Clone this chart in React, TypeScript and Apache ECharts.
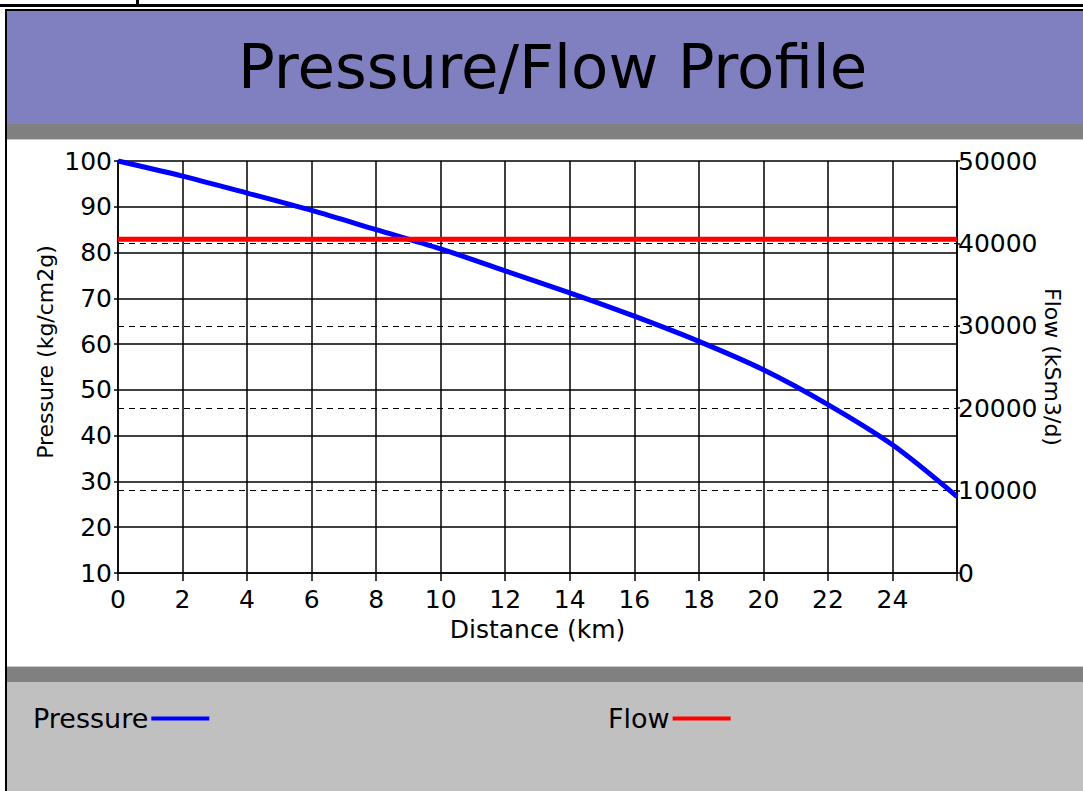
import React, { useEffect, useRef } from "react";
import * as echarts from "echarts";

const distanceKm = [0, 2, 4, 6, 8, 10, 12, 14, 16, 18, 20, 22, 24, 26];
const pressure = [100, 96.7, 93.0, 89.2, 85.0, 80.8, 76.0, 71.2, 66.1, 60.6, 54.4, 46.8, 38.0, 26.7];
const flowDistance = [0, 26];
const flowValue = [40500, 40500];
const seriesNames = ["Pressure", "Flow"];
const titleText = "Pressure/Flow Profile";

const FONT = "DejaVu Sans";

export default function App() {
  const ref = useRef<HTMLDivElement>(null);
  useEffect(() => {
    const chart = echarts.init(ref.current!, null, { renderer: "svg" });
    const pressureData = distanceKm.map((d, i) => [d, pressure[i]]);
    const flowData = flowDistance.map((d, i) => [d, flowValue[i]]);
    const rect = (x: number, y: number, w: number, h: number, fill: string) => ({
      type: "rect",
      silent: true,
      shape: { x, y, width: w, height: h },
      style: { fill },
    });
    const legendBase = {
      align: "right",
      icon: "rect",
      itemWidth: 58,
      itemHeight: 4,
      itemGap: 0,
      padding: 0,
      top: 705,
      textStyle: { fontFamily: FONT, fontSize: 27, color: "#000", padding: [0, -2, 0, 0] },
    };
    chart.setOption({
      animation: false,
      backgroundColor: "#ffffff",
      textStyle: { fontFamily: FONT },
      graphic: [
        rect(0, 4, 1083, 3, "#000000"),
        rect(136, 0, 3, 5, "#000000"),
        rect(5, 9, 1078, 2, "#000000"),
        rect(5, 9, 2, 782, "#000000"),
        rect(7, 11, 1076, 113, "#8080C0"),
        rect(7, 124, 1076, 15, "#808080"),
        rect(7, 139, 1076, 1, "#C8C8C8"),
        rect(7, 666, 1076, 1, "#C8C8C8"),
        rect(7, 667, 1076, 15, "#808080"),
        rect(7, 682, 1076, 109, "#C0C0C0"),
      ],
      title: {
        text: titleText,
        left: 233,
        top: 31,
        textStyle: { fontFamily: FONT, fontSize: 61, fontWeight: "normal", color: "#000" },
      },
      legend: [
        { ...legendBase, data: [seriesNames[0]], left: 33 },
        { ...legendBase, data: [seriesNames[1]], left: 608 },
      ],
      grid: { left: 118, right: 126, top: 161, bottom: 218, containLabel: false },
      xAxis: {
        type: "value",
        min: 0,
        max: 26,
        interval: 2,
        name: "Distance (km)",
        nameLocation: "middle",
        nameGap: 36,
        nameTextStyle: { fontFamily: FONT, fontSize: 25, color: "#000" },
        axisLine: { show: true, lineStyle: { color: "#000", width: 1.5 } },
        axisTick: { show: true, length: 8, lineStyle: { color: "#000", width: 1.5 } },
        axisLabel: {
          margin: 14,
          fontFamily: FONT,
          fontSize: 25,
          color: "#000",
          formatter: (v: number) => (v === 26 ? "" : String(v)),
        },
        splitLine: { show: true, lineStyle: { color: "#000", width: 1.5 } },
      },
      yAxis: [
        {
          type: "value",
          min: 10,
          max: 100,
          interval: 10,
          position: "left",
          name: "Pressure (kg/cm2g)",
          nameLocation: "middle",
          nameRotate: 90,
          nameGap: 62,
          nameMoveOverlap: false,
          nameTextStyle: { fontFamily: FONT, fontSize: 22, color: "#000", padding: [0, 0, 0, 30] },
          axisLine: { show: true, lineStyle: { color: "#000", width: 1.5 } },
          axisTick: { show: true, length: 4, lineStyle: { color: "#000", width: 1.5 } },
          axisLabel: { margin: 6, fontFamily: FONT, fontSize: 25, color: "#000" },
          splitLine: { show: true, lineStyle: { color: "#000", width: 1.5 } },
        },
        {
          type: "value",
          min: 0,
          max: 50000,
          interval: 10000,
          position: "right",
          name: "Flow (kSm3/d)",
          nameLocation: "middle",
          nameRotate: -90,
          nameGap: 84,
          nameMoveOverlap: false,
          nameTextStyle: { fontFamily: FONT, fontSize: 22, color: "#000" },
          axisLine: { show: true, lineStyle: { color: "#000", width: 1.5 } },
          axisTick: { show: true, length: 3, lineStyle: { color: "#000", width: 1.5 } },
          axisLabel: {
            margin: 1,
            fontFamily: FONT,
            fontSize: 25,
            color: "#000",
            formatter: (v: number) => String(v),
          },
          splitLine: {
            show: true,
            showMinLine: false,
            showMaxLine: false,
            lineStyle: { color: "#000", width: 1.2, type: [6, 5] },
          },
        },
      ],
      series: [
        {
          name: seriesNames[0],
          type: "line",
          yAxisIndex: 0,
          data: pressureData,
          smooth: 0.3,
          symbol: "none",
          color: "#0000FF",
          lineStyle: { color: "#0000FF", width: 5 },
          z: 3,
        },
        {
          name: seriesNames[1],
          type: "line",
          yAxisIndex: 1,
          data: flowData,
          symbol: "none",
          color: "#FF0000",
          lineStyle: { color: "#FF0000", width: 5 },
          z: 4,
        },
      ],
    });
    return () => chart.dispose();
  }, []);
  return (
    <div
      ref={ref}
      style={{ position: "fixed", left: 0, top: 0, width: 1083, height: 791 }}
    />
  );
}
